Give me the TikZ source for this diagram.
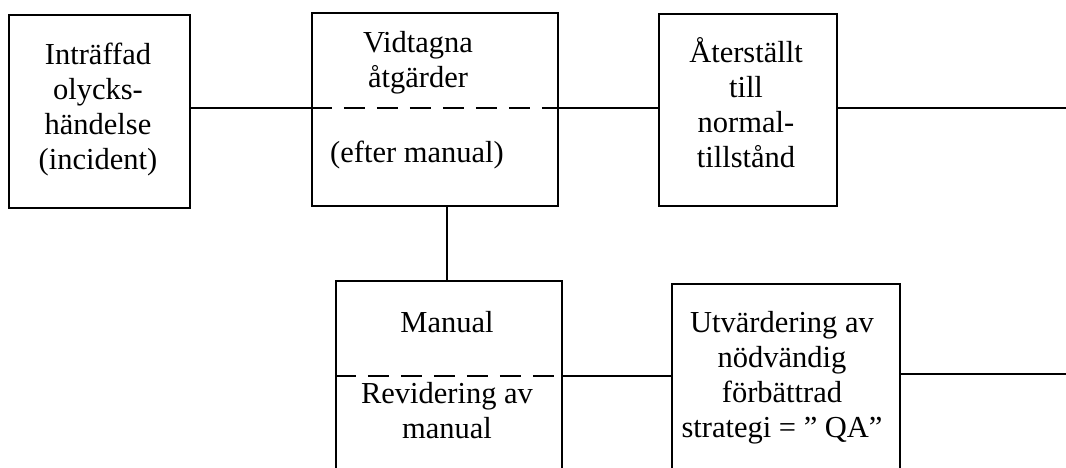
\documentclass[tikz,border=0pt]{standalone}
\usepackage{fontspec}
\setmainfont{Liberation Serif}
\begin{document}
\begin{tikzpicture}[x=1pt,y=-1pt,
  box/.style={draw, line width=2.2pt, rectangle, inner sep=0pt},
  lbl/.style={align=center, font=\fontsize{30.5}{35}\selectfont, inner sep=0pt},
  conn/.style={line width=2.2pt},
  sep/.style={line width=2.2pt, dash pattern=on 21pt off 12pt}]
\useasboundingbox (0,0) rectangle (1066,468);
\clip (0,0) rectangle (1066,468);
% boxes
\node[box, minimum width=181pt, minimum height=193pt] (b1) at (99.5,111.5) {};
\node[box, minimum width=246pt, minimum height=193pt] (b2) at (435,109.5) {};
\node[box, minimum width=178pt, minimum height=192pt] (b3) at (748,110) {};
\node[box, minimum width=226pt, minimum height=239pt] (b4) at (449,400.5) {};
\node[box, minimum width=228pt, minimum height=236pt] (b5) at (786,402) {};
% helper coordinates
\coordinate (yTop) at (0,108);
\coordinate (yLow) at (0,376);
\coordinate (yLowR) at (0,374);
\coordinate (xV) at (447,0);
\coordinate (r1) at (1066,108);
\coordinate (r2) at (1066,374);
% dashed separators
\draw[sep] (b2.west |- yTop) -- (b2.east |- yTop);
\draw[sep] (b4.west |- yLow) -- (b4.east |- yLow);
% connectors
\draw[conn] (b1.east |- yTop) -- (b2.west |- yTop);
\draw[conn] (b2.east |- yTop) -- (b3.west |- yTop);
\draw[conn] (b3.east |- yTop) -- (r1);
\draw[conn] (b2.south -| xV) -- (b4.north -| xV);
\draw[conn] (b4.east |- yLow) -- (b5.west |- yLow);
\draw[conn] (b5.east |- yLowR) -- (r2);
% labels
\node[lbl] (t1) at (98,110) {Inträffad\\olycks-\\händelse\\(incident)};
\node[lbl] (t2a) at (418,62.5) {Vidtagna\\åtgärder};
\node[lbl] (t2b) at (417,155.5) {(efter manual)};
\node[lbl] (t3) at (746,102.5) {Återställt\\till\\normal-\\tillstånd};
\node[lbl] (t4a) at (447,322.5) {Manual};
\node[lbl] (t4b) at (447,411) {Revidering av\\manual};
\node[lbl] (t5) at (782,377.5) {Utvärdering av\\nödvändig\\förbättrad\\strategi = ” QA”};
\end{tikzpicture}
\end{document}
